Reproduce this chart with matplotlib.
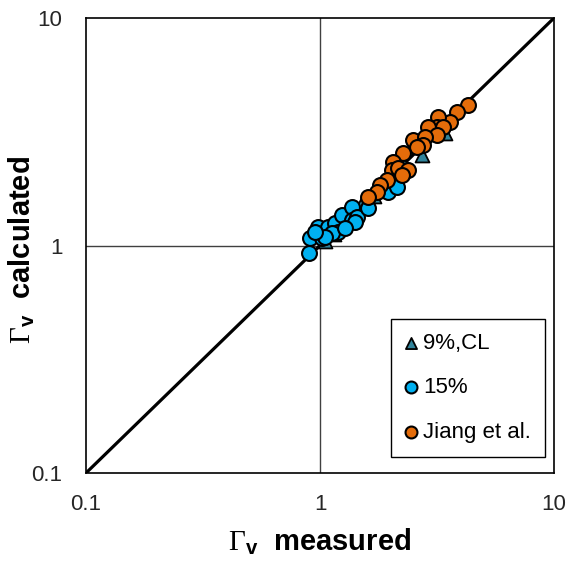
import numpy as np
import matplotlib.pyplot as plt

plt.rcParams['font.family'] = ['Liberation Sans', 'DejaVu Sans']
plt.rcParams['mathtext.fontset'] = 'custom'
plt.rcParams['mathtext.rm'] = 'Liberation Serif'
plt.rcParams['mathtext.sf'] = 'Liberation Sans:bold'

# 9%, CL series (mostly sits under the other points)
cl_meas = [1.05, 1.15, 1.3, 1.5, 1.7, 2.0, 2.26, 2.73, 3.3, 3.42]
cl_calc = [1.05, 1.12, 1.3, 1.5, 1.65, 1.95, 2.31, 2.50, 3.2, 3.13]

# 15% series
p15_meas = [0.897, 0.906, 0.98, 1.02, 1.08, 1.16, 1.24, 1.37, 1.37, 1.44,
            1.60, 1.19, 1.12, 1.05, 1.41, 1.95, 2.13, 1.28, 0.953]
p15_calc = [0.927, 1.08, 1.205, 1.08, 1.205, 1.255, 1.36, 1.48, 1.29, 1.33,
            1.46, 1.15, 1.135, 1.09, 1.27, 1.72, 1.81, 1.19, 1.15]

# Jiang et al. data
jiang_meas = [4.29, 3.85, 3.59, 3.19, 3.16, 2.89, 3.36, 3.16, 2.49, 2.81,
              2.75, 2.60, 2.26, 2.05, 2.03, 2.15, 2.38, 2.24, 1.93, 1.80,
              1.75, 1.60]
jiang_calc = [4.15, 3.86, 3.49, 3.67, 3.32, 3.32, 3.32, 3.06, 2.91, 3.00,
              2.77, 2.71, 2.55, 2.33, 2.15, 2.19, 2.15, 2.04, 1.94, 1.85,
              1.72, 1.63]

fig = plt.figure(figsize=(5.7, 5.65), dpi=100)
ax = fig.add_axes([86 / 570, 1 - 473 / 565, 468 / 570, 455 / 565])

ax.set_xscale('log')
ax.set_yscale('log')
ax.set_xlim(0.1, 10)
ax.set_ylim(0.1, 10)

ax.axvline(1, color='#404040', lw=1, zorder=1)
ax.axhline(1, color='#404040', lw=1, zorder=1)
ax.plot([0.1, 10], [0.1, 10], color='black', lw=2.3, zorder=2)

ax.scatter(cl_meas, cl_calc, marker='^', s=100, color='#31849B',
           edgecolors='black', linewidths=1.3, zorder=3, label='9%,CL')
ax.scatter(p15_meas, p15_calc, marker='o', s=115, color='#00B0F0',
           edgecolors='black', linewidths=1.5, zorder=4, label='15%')
ax.scatter(jiang_meas, jiang_calc, marker='o', s=115, color='#E46C0A',
           edgecolors='black', linewidths=1.5, zorder=5, label='Jiang et al.')

ax.set_xticks([0.1, 1, 10])
ax.set_xticklabels(['0.1', '1', '10'])
ax.set_yticks([0.1, 1, 10])
ax.set_yticklabels(['0.1', '1', '10'])
ax.minorticks_off()
ax.tick_params(length=0, labelsize=16, colors='#262626')
ax.tick_params(axis='x', pad=15)
ax.tick_params(axis='y', pad=17)
for s in ax.spines.values():
    s.set_color('black')
    s.set_linewidth(1.2)

ax.set_xlabel(r'$\mathrm{\Gamma}_\mathsf{v}$  measured', fontsize=21, fontweight='bold')
ax.set_ylabel(r'$\mathrm{\Gamma}_\mathsf{v}$  calculated', fontsize=21, fontweight='bold')
ax.xaxis.set_label_coords(0.5, -0.118)
ax.yaxis.set_label_coords(-0.104, 0.49)

leg = ax.legend(loc='lower right', bbox_to_anchor=(0.981, 0.035), borderaxespad=0,
                fontsize=16, markerscale=0.8, handlelength=0.5, handletextpad=0.3,
                labelspacing=1.05, borderpad=0.65, fancybox=False, framealpha=1,
                edgecolor='black')
leg.get_frame().set_linewidth(1.0)

fig.savefig('out.png', dpi=100)
